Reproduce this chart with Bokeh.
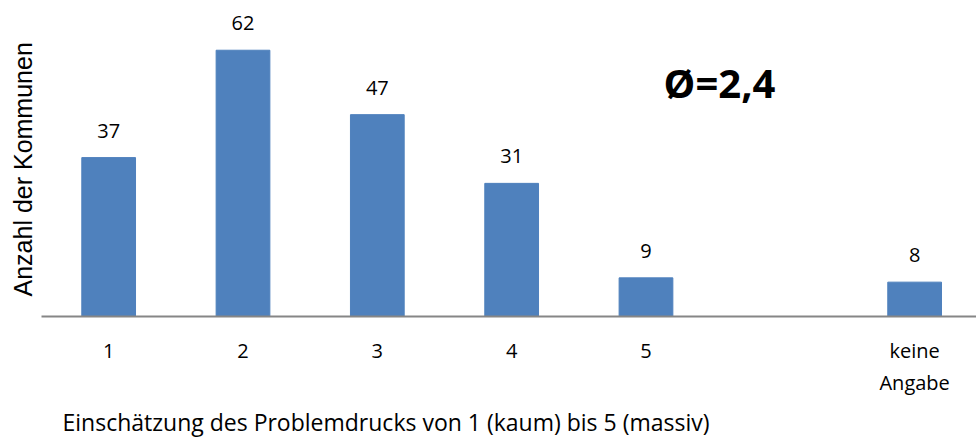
from bokeh.plotting import figure
from bokeh.models import Range1d, FixedTicker, ColumnDataSource, LabelSet, Label, Title
from bokeh.core.properties import value
from bokeh.embed import file_html
from bokeh.resources import INLINE

categories = ["1", "2", "3", "4", "5", "", "keine\nAngabe"]
values = [37, 62, 47, 31, 9, None, 8]
mean_text = "Ø=2,4"
y_title = "Anzahl der Kommunen"
x_title = "Einschätzung des Problemdrucks von 1 (kaum) bis 5 (massiv)"

BLUE = "#4F81BD"
FONT = "Open Sans"

pos = [i + 1 for i in range(len(categories))]
bx = [p_ for p_, v in zip(pos, values) if v is not None]
bv = [v for v in values if v is not None]
src = ColumnDataSource(dict(x=bx, top=bv, lab=[str(v) for v in bv]))

px_per_unit = 134.33
px_per_val = 4.315
W, H = 976, 443
left = 41
frame_h = 317.5
frame_w = W - left

p = figure(width=W, height=H, output_backend="svg", toolbar_location=None,
           x_range=Range1d(0.5, 0.5 + frame_w / px_per_unit),
           y_range=Range1d(0, frame_h / px_per_val),
           min_border_left=left, min_border_right=0, min_border_top=0,
           min_border_bottom=int(H - frame_h))
p.outline_line_color = None
p.grid.visible = False
p.yaxis.visible = False
p.background_fill_color = "white"
p.border_fill_color = "white"

p.vbar(x="x", top="top", width=0.4, color=BLUE, source=src)

ax = p.xaxis[0]
ax.ticker = FixedTicker(ticks=pos)
ax.major_label_overrides = {p_: c for p_, c in zip(pos, categories)}
ax.axis_line_color = "#868686"
ax.axis_line_width = 2
ax.major_tick_line_color = None
ax.minor_tick_line_color = None
ax.major_tick_out = 0
ax.major_label_text_font = FONT
ax.major_label_text_font_size = "20px"
ax.major_label_text_color = "black"
ax.major_label_standoff = 20

p.add_layout(Title(text=y_title, align="left", offset=20,
                   text_font="Liberation Sans", text_font_style="normal",
                   text_font_size="25px", text_color="black", standoff=10), "left")

p.add_layout(Title(text=x_title, align="left", offset=21,
                   text_font=FONT, text_font_style="normal",
                   text_font_size="23px", text_color="black", standoff=11), "below")

p.add_layout(LabelSet(x="x", y="top", text="lab", source=src, y_offset=20,
                      text_align="center", text_baseline="bottom",
                      text_font=value(FONT), text_font_size=value("20px"),
                      text_color="black"))

p.add_layout(Label(x=0.5 + (719 - left) / px_per_unit, y=(frame_h - 82) / px_per_val,
                   text=mean_text, text_align="center", text_baseline="middle",
                   text_font=FONT, text_font_style="bold", text_font_size="40px",
                   text_color="black"))

open("out.html", "w").write(file_html(p, INLINE))
